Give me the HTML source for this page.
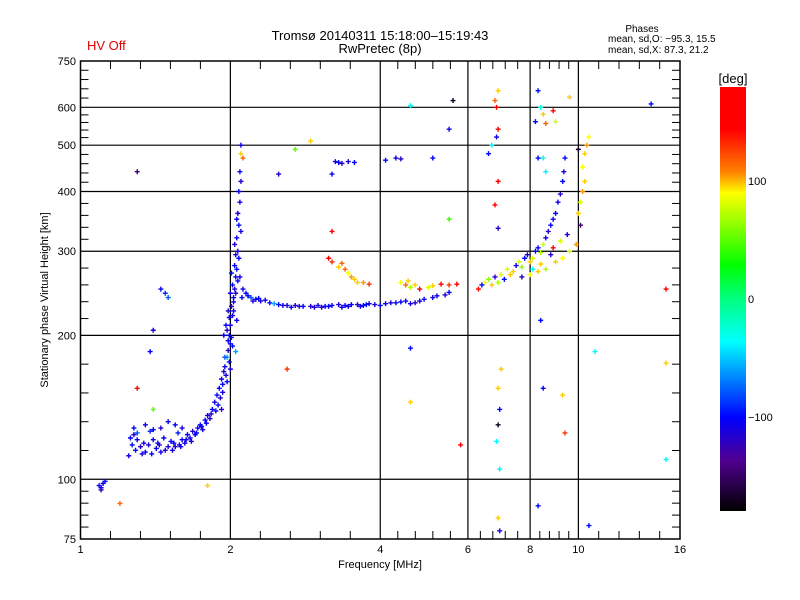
<!DOCTYPE html>
<html><head><meta charset="utf-8"><style>
body{margin:0;background:#fff;}
svg{display:block;font-family:"Liberation Sans",sans-serif;}
</style></head><body>
<svg id="chart" width="800" height="600" viewBox="0 0 800 600" xmlns="http://www.w3.org/2000/svg">
<defs>
<linearGradient id="cbar" x1="0" y1="0" x2="0" y2="1">
<stop offset="0" stop-color="#ff0000"/>
<stop offset="0.1" stop-color="#ff0000"/>
<stop offset="0.2" stop-color="#ff8000"/>
<stop offset="0.25" stop-color="#ffff00"/>
<stop offset="0.42" stop-color="#00ff00"/>
<stop offset="0.5" stop-color="#00ff80"/>
<stop offset="0.6" stop-color="#00ffff"/>
<stop offset="0.78" stop-color="#0000ff"/>
<stop offset="0.88" stop-color="#500090"/>
<stop offset="1" stop-color="#000000"/>
</linearGradient>
</defs>
<text x="87" y="50" font-size="13" fill="#e00000">HV Off</text>
<text x="380" y="40" font-size="13" text-anchor="middle">Tromsø 20140311 15:18:00–15:19:43</text>
<text x="380" y="53" font-size="13" text-anchor="middle">RwPretec (8p)</text>
<text x="642" y="32" font-size="10" text-anchor="middle">Phases</text>
<text x="608" y="42" font-size="10">mean, sd,O: −95.3, 15.5</text>
<text x="608" y="53" font-size="10">mean, sd,X:  87.3, 21.2</text>
<g id="grid"></g>
<g id="marks"></g>
<rect x="80.5" y="61" width="599.5" height="478" fill="none" stroke="#000" stroke-width="1.5"/>
<g id="axes" font-size="11"></g>
<text x="380" y="568" font-size="11" text-anchor="middle">Frequency [MHz]</text>
<text x="48" y="300" font-size="11" text-anchor="middle" transform="rotate(-90 48 300)">Stationary phase Virtual Height [km]</text>
<rect x="720" y="87" width="26" height="424" fill="url(#cbar)"/>
<text x="733" y="83" font-size="13" text-anchor="middle">[deg]</text>
<g id="cbticks" font-size="11"></g>
</svg>
<script>
const xTickLabels=[1,2,4,6,8,10,16];
const yTickLabels=[75,100,200,300,400,500,600,750];
const cbTickLabels=[100,0,-100];
const freqs=[1.09,1.1,1.11,1.1,1.12,
1.25,1.27,1.28,1.3,1.32,1.33,1.35,1.37,1.38,1.4,1.42,1.44,1.45,1.47,1.5,1.52,1.53,1.55,1.57,1.58,1.6,1.62,1.64,1.66,1.68,1.7,1.72,1.74,1.76,1.78,1.8,1.82,1.84,1.86,1.87,1.88,1.9,1.91,1.92,1.93,1.94,1.95,1.96,1.97,1.98,1.99,2.0,1.99,2.0,2.01,2.02,2.01,2.03,2.02,2.04,2.05,2.04,2.06,2.05,2.07,2.06,2.08,2.07,2.09,2.08,2.1,2.09,2.1,1.96,1.98,2.0,1.97,1.92,2.05,2.06,1.94,
1.28,1.35,1.45,1.5,1.55,1.6,1.3,1.4,1.26,
1.29,1.34,1.39,1.43,1.48,1.54,1.59,1.63,1.67,1.71,1.75,1.79,1.83,1.89,1.93,1.95,1.98,2.0,2.02,2.03,2.05,2.07,2.08,2.1,2.04,2.06,2.01,1.99,1.97,2.11,2.09,2.03,
2.12,2.15,2.2,2.25,2.3,2.35,2.4,2.5,2.6,2.7,2.8,2.9,3.0,3.1,3.2,3.3,3.4,3.5,3.6,3.7,3.8,3.9,4.1,4.3,4.5,4.7,4.9,5.1,5.5,5.4,2.45,2.55,2.75,2.95,3.15,3.45,3.75,4.2,4.4,4.6,
2.17,2.22,2.28,2.65,3.05,3.35,3.65,4.0,4.8,5.2,
1.45,1.48,1.5,1.4,1.38,
3.25,3.3,3.35,3.45,3.55,
1.3,2.5,3.2,4.1,4.3,4.4,5.1,5.5,5.6,4.6,
3.15,3.2,3.3,3.35,3.4,3.45,3.5,3.55,3.6,3.7,3.8,4.4,4.5,4.6,4.7,4.8,5.0,5.1,5.3,5.5,5.7,4.55,
6.3,6.4,6.5,6.6,6.7,6.8,6.9,7.0,7.1,7.2,7.4,7.5,7.6,7.7,7.8,7.9,8.0,8.1,8.2,8.3,8.4,8.5,8.6,8.7,8.8,8.9,9.0,9.1,9.2,9.3,9.35,9.4,8.0,8.3,8.6,9.0,9.3,9.6,9.9,7.3,8.8,9.2,9.5,8.9,8.1,8.4,7.7,
10.0,10.1,10.2,10.3,10.2,10.3,10.4,10.5,10.1,10.0,
6.9,6.8,6.85,6.9,6.85,6.9,6.8,6.9,6.9,6.95,6.9,6.85,6.95,6.9,6.95,6.7,6.6,
8.3,8.4,8.5,8.6,8.2,8.9,8.5,8.6,9.0,8.3,
9.6,14,15,15,15,10.8,10.5,8.3,8.4,8.5,9.3,9.4,7.0,2.6,1.8,1.3,1.4,1.2,2.9,2.7,2.1,2.12,3.2,5.5,5.8,4.6,4.6];
const heights=[97,96,98,95,99,
112,118,124,121,117,113,114,118,126,121,116,118,114,122,117,120,115,117,125,118,121,119,124,122,126,124,128,130,127,133,136,134,140,145,139,150,155,148,162,158,168,172,165,180,186,176,192,200,210,198,220,230,240,255,250,265,280,275,295,300,320,340,360,380,400,420,440,500,210,225,245,160,140,185,215,200,
128,130,128,132,130,128,125,127,122,
115,119,113,119,115,119,117,121,120,125,129,131,137,143,152,180,195,170,190,235,245,260,290,330,310,350,270,218,205,240,265,225,
250,245,240,238,236,237,234,232,231,231,230,230,231,230,231,232,231,232,232,231,233,232,233,234,236,234,238,240,246,243,233,231,230,229,230,230,232,234,235,233,
242,236,239,229,229,229,230,231,236,242,
250,245,240,205,185,
462,460,458,462,460,
440,435,435,465,470,468,470,540,620,605,
290,285,278,283,275,270,265,262,258,258,256,258,255,252,255,250,252,254,256,255,256,260,
250,255,258,262,255,265,258,268,262,275,272,280,285,278,290,295,285,290,300,305,298,310,320,330,340,350,360,380,395,420,440,470,268,272,275,285,290,300,310,268,295,315,325,305,275,282,265,
360,380,400,420,450,480,500,520,340,490,
650,620,600,540,520,420,375,335,155,140,130,120,105,83,78,500,480,
650,600,580,555,560,590,470,440,560,470,
630,610,250,175,110,185,80,88,215,155,150,125,170,170,97,155,140,89,510,490,480,470,330,350,118,145,188];
const phases=[-110,-105,-115,-120,-100,
-110,-100,-115,-105,-120,-110,-100,-115,-90,-110,-105,-120,-110,-100,-115,-105,-110,-120,-95,-110,-105,-115,-100,-110,-120,-105,-110,-100,-115,-105,-110,-120,-100,-110,-115,-100,-105,-120,-110,-100,-115,-105,-110,-60,-120,-100,-110,-105,-115,-100,-110,-120,-105,-100,-115,-110,-105,-100,-120,-110,-105,-100,-115,-110,-105,-120,-100,-110,-105,-115,-110,-100,-120,-60,-110,-105,
-100,-110,-120,-105,-100,-115,-80,-110,-105,
-105,-115,-100,-110,-120,-100,-110,-105,-115,-100,-110,-105,-120,-100,-110,-80,-105,-115,-100,-110,-120,-105,-100,-110,-115,-105,-100,-110,-120,-100,-110,-105,
-110,-100,-80,-105,-115,-110,-100,-105,-110,-115,-100,-120,-110,-105,-100,-115,-110,-105,-120,-100,-110,-115,-105,-100,-110,-120,-100,-110,-105,-115,-60,-110,-120,-115,-105,-110,-100,-115,-105,-110,
-105,-115,-100,-110,-120,-105,-110,-100,-115,-105,
-100,-90,-80,-110,-105,
-110,-100,-120,-110,-100,
-150,-120,-110,-100,-110,-120,-100,-110,-170,-40,
140,130,100,120,120,90,110,100,100,110,130,90,120,70,100,150,80,100,140,130,160,100,
140,-100,90,60,100,-120,70,80,-100,80,100,-110,80,60,-100,-120,100,80,-110,-100,70,80,-110,-120,-100,-110,-100,-110,-120,-100,-110,-100,90,100,70,100,90,80,110,100,-120,80,-110,150,-40,100,-120,
100,80,110,100,90,100,110,90,-150,-170,
100,120,160,150,-110,150,140,-120,100,-100,-170,-40,-40,100,-110,-40,-100,
-100,-30,100,120,-100,160,-30,-40,80,-100,
100,-100,150,100,-40,-40,-100,-100,-100,-100,100,130,100,130,100,150,50,120,100,50,100,120,150,40,150,100,-100];

const X0=80.5,X1=680,Y0=539,Y1=61;
function xScale(f){return X0+(X1-X0)*Math.log2(f)/4;}
function yScale(h){return Y0-(Y0-Y1)*Math.log10(h/75);}
const stops=[[180,255,0,0],[140,255,0,0],[115,255,128,0],[90,255,255,0],[27,0,255,0],[0,0,255,128],[-38,0,255,255],[-102,0,0,255],[-140,80,0,144],[-180,0,0,0]];
function phaseColor(p){
  for(let i=0;i<stops.length-1;i++){
    const a=stops[i],b=stops[i+1];
    if(p<=a[0]&&p>=b[0]){const t=(a[0]-p)/(a[0]-b[0]);
      const c=[1,2,3].map(k=>Math.round(a[k]+(b[k]-a[k])*t));return `rgb(${c[0]},${c[1]},${c[2]})`;}
  }
  return p>0?'rgb(255,0,0)':'rgb(0,0,0)';
}
const NS='http://www.w3.org/2000/svg';
function mk(tag,attrs,parent){const e=document.createElementNS(NS,tag);for(const k in attrs)e.setAttribute(k,attrs[k]);parent.appendChild(e);return e;}
const grid=document.getElementById('grid'),axes=document.getElementById('axes'),marks=document.getElementById('marks');
xTickLabels.slice(1,-1).forEach(f=>{const l=mk('line',{x1:xScale(f),x2:xScale(f),y1:Y1,y2:Y0,stroke:'#000','stroke-width':1.2},grid);

});
yTickLabels.slice(1,-1).forEach(h=>{const l=mk('line',{x1:X0,x2:X1,y1:yScale(h),y2:yScale(h),stroke:'#000','stroke-width':1.2},grid);

});
for(let i=0;i<xTickLabels.length-1;i++){const a=xTickLabels[i],b=xTickLabels[i+1];
  for(let k=1;k<5;k++){const x=xScale(a*Math.pow(b/a,k/5));
    mk('line',{x1:x,x2:x,y1:Y0,y2:Y0-8,stroke:'#000'},axes);mk('line',{x1:x,x2:x,y1:Y1,y2:Y1+8,stroke:'#000'},axes);}}
for(let i=0;i<yTickLabels.length-1;i++){const a=yTickLabels[i],b=yTickLabels[i+1];
  for(let k=1;k<5;k++){const y=yScale(a*Math.pow(b/a,k/5));
    mk('line',{x1:X0,x2:X0+8,y1:y,y2:y,stroke:'#000'},axes);mk('line',{x1:X1,x2:X1-8,y1:y,y2:y,stroke:'#000'},axes);}}
xTickLabels.forEach(f=>{const t=mk('text',{x:xScale(f),y:553,'text-anchor':'middle'},axes);t.textContent=f;

});
yTickLabels.forEach(h=>{const t=mk('text',{x:76,y:yScale(h)+4,'text-anchor':'end'},axes);t.textContent=h;

});
const cb=document.getElementById('cbticks');
cbTickLabels.forEach(v=>{const y=87+(180-v)/360*424;const t=mk('text',{x:748,y:y+4},cb);t.textContent=(v<0?'−'+(-v):v);

});
for(let i=0;i<freqs.length;i++){
  const x=xScale(freqs[i]),y=yScale(heights[i]);
  const p=mk('path',{d:`M${x-2.5} ${y}h5M${x} ${y-2.5}v5`,stroke:phaseColor(phases[i]),'stroke-width':1.4,fill:'none'},marks);
  
  
}
</script>
</body></html>
